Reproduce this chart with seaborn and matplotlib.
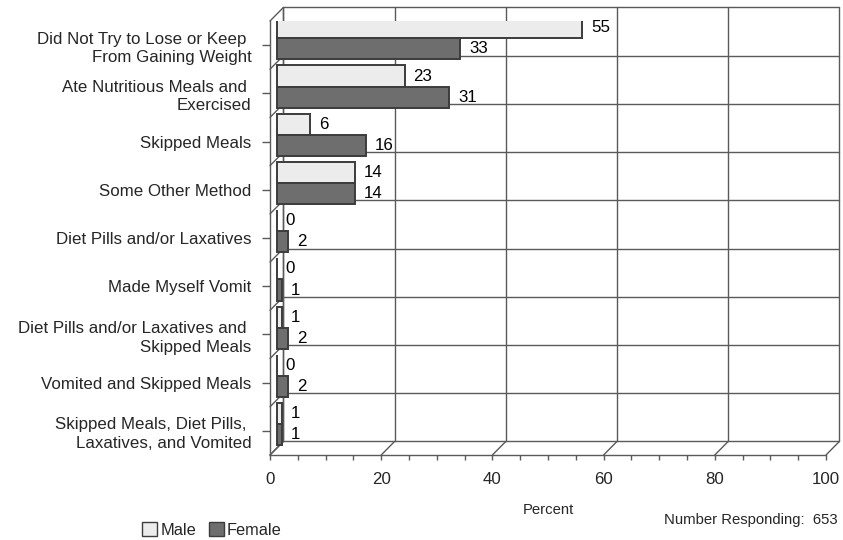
import matplotlib.pyplot as plt
import seaborn as sns
import numpy as np
import pandas as pd

categories = [
    "Did Not Try to Lose or Keep \nFrom Gaining Weight",
    "Ate Nutritious Meals and \nExercised",
    "Skipped Meals",
    "Some Other Method",
    "Diet Pills and/or Laxatives",
    "Made Myself Vomit",
    "Diet Pills and/or Laxatives and \nSkipped Meals",
    "Vomited and Skipped Meals",
    "Skipped Meals, Diet Pills, \nLaxatives, and Vomited",
]
male = [55, 23, 6, 14, 0, 0, 1, 0, 1]
female = [33, 31, 16, 14, 2, 1, 2, 2, 1]
groups = ["Male", "Female"]
colors = {"Male": "#ececec", "Female": "#6e6e6e"}
x_ticks = [0, 20, 40, 60, 80, 100]

df = pd.DataFrame({
    "category": categories * 2,
    "sex": ["Male"] * len(categories) + ["Female"] * len(categories),
    "value": male + female,
})

sns.set_style("white")
plt.rcParams["font.family"] = ["Liberation Sans", "DejaVu Sans"]
edge = "#3c3c3c"
grid = "#5a5a5a"
fs = 12.2

fig = plt.figure(figsize=(8.43, 5.4), dpi=100)
ax = fig.add_axes([270 / 843, 85 / 540, 556 / 843, 434 / 540])

sns.barplot(data=df, y="category", x="value", hue="sex", hue_order=groups,
            palette=colors, orient="h", width=0.875, edgecolor=edge,
            linewidth=1.4, ax=ax, legend=False)

n = len(categories)
ax.set_xlim(0, 100)
ax.set_ylim(n - 0.5, -0.5)

# depth of the fake 3d box, in data units
dx, dy = 2.4, 0.28

# push the bars to the middle of the box
for cont, g in zip(ax.containers, groups):
    for p, v in zip(cont.patches, df.loc[df.sex == g, "value"]):
        p.set_x(p.get_x() + dx / 2)
        p.set_y(p.get_y() - dy / 2)
        ax.text(p.get_x() + p.get_width() + 1.6, p.get_y() + p.get_height() / 2,
                f"{v:g}", ha="left", va="center", fontsize=fs, color="black",
                clip_on=False)

lw = 1.0
kw = dict(color=grid, lw=lw, clip_on=False, zorder=0)
top, bot = -0.5, n - 0.5
# back wall, left wall and floor
for b in np.arange(n + 1) - 0.5:
    ax.plot([dx, 100 + dx], [b - dy, b - dy], **kw)
    ax.plot([0, dx], [b, b - dy], **kw)
for t in x_ticks:
    ax.plot([t + dx, t + dx], [top - dy, bot - dy], **kw)
    ax.plot([t, t + dx], [bot, bot - dy], **kw)
ax.plot([dx, dx], [top - dy, bot - dy], **kw)

for s in ["top", "right"]:
    ax.spines[s].set_visible(False)
for s in ["left", "bottom"]:
    ax.spines[s].set_color(grid)
    ax.spines[s].set_linewidth(lw)

ax.set_xticks(x_ticks)
ax.set_xticks(np.arange(0, 101, 5), minor=True)
ax.tick_params(axis="x", which="both", direction="out", length=3.6, width=1,
               color=grid, labelsize=fs, pad=8.5, bottom=True)
ax.tick_params(axis="y", direction="out", length=5.5, width=1, color=grid,
               labelsize=fs, pad=8, left=True)
for lab in ax.get_yticklabels():
    lab.set_linespacing(1.3)
ax.set_xlabel("")
ax.set_ylabel("")

fig.text(548 / 843, 1 - 510 / 540, "Percent", ha="center", va="center", fontsize=10.7)
fig.text(838 / 843, 1 - 520 / 540, "Number Responding:  653", ha="right",
         va="center", fontsize=10.7)

handles = [plt.Rectangle((0, 0), 1, 1, facecolor=colors[g], edgecolor=edge, lw=1)
           for g in groups]
fig.legend(handles, groups, loc="center", bbox_to_anchor=(212 / 843, 1 - 530 / 540),
           ncol=2, frameon=False, fontsize=11.8, handlelength=0.9, handleheight=0.9,
           handletextpad=0.2, columnspacing=0.8, borderaxespad=0)

fig.savefig("out.png", dpi=100)
